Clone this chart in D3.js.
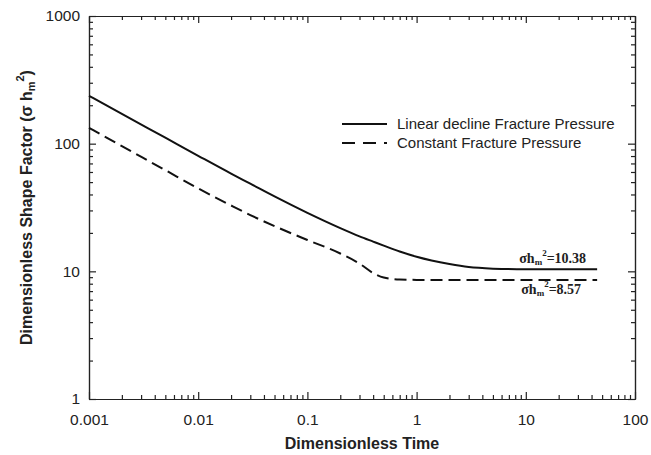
<!DOCTYPE html>
<html>
<head>
<meta charset="utf-8">
<script src="https://cdn.jsdelivr.net/npm/d3@7"></script>
<style>
    html, body { margin: 0; padding: 0; background: #fff; }
    svg { display: block; font-family: "Liberation Sans", Arial, Helvetica, sans-serif; }
    .axis path, .axis line { stroke: #222; stroke-width: 1.2; }
    .axis text { font-size: 15.5px; fill: #222; }
</style>
</head>
<body>
<div id="chart"></div>
<script>
// dimensionless time
const times = [0.001, 0.002, 0.005, 0.01, 0.02, 0.03, 0.05, 0.1, 0.2, 0.3, 0.4, 0.5, 0.7, 1, 2, 3, 5, 10, 20, 45];
// shape factor, linear decline fracture pressure
const linearDecline = [237, 171, 111.3, 80.4, 58.3, 48.6, 38.6, 28.7, 21.8, 18.8, 17.1, 15.9, 14.3, 13.0, 11.4, 10.8, 10.5, 10.38, 10.38, 10.38];
// shape factor, constant fracture pressure
const constantPressure = [133, 95.7, 62.0, 44.6, 32.8, 27.6, 22.6, 17.6, 13.8, 11.5, 9.7, 8.95, 8.62, 8.57, 8.57, 8.57, 8.57, 8.57, 8.57, 8.57];

const xTicks = [0.001, 0.01, 0.1, 1, 10, 100];
const yTicks = [1, 10, 100, 1000];
const legendLabels = ['Linear decline Fracture Pressure', 'Constant Fracture Pressure'];
const plateauValues = ['10.38', '8.57'];

const W = 651, H = 455;
const margin = { top: 16, right: 16, bottom: 56, left: 89 };
const innerW = W - margin.left - margin.right;
const innerH = H - margin.top - margin.bottom;

const x = d3.scaleLog().domain([0.001, 100]).range([0, innerW]);
const y = d3.scaleLog().domain([1, 1000]).range([innerH, 0]);

function minorTicks(lo, hi) {
    const out = [];
    for (let p = Math.log10(lo); p < Math.log10(hi); p++) {
        for (let m = 2; m <= 9; m++) out.push(m * Math.pow(10, p));
    }
    return out;
}
const xMinor = minorTicks(0.001, 100);
const yMinor = minorTicks(1, 1000);

const svg = d3.select('#chart').append('svg')
    .attr('width', W)
    .attr('height', H);

const g = svg.append('g').attr('transform', `translate(${margin.left},${margin.top})`);

// frame + ticks (inward on all sides)
const fmt = d3.format('~g');

const xAxisBottom = g.append('g').attr('class', 'axis')
    .attr('transform', `translate(0,${innerH})`)
    .call(d3.axisBottom(x).tickValues(xTicks).tickFormat(fmt).tickSize(-7).tickSizeOuter(0));
xAxisBottom.selectAll('text').attr('y', 26).attr('dy', 0);
g.append('g').attr('class', 'axis')
    .attr('transform', `translate(0,${innerH})`)
    .call(d3.axisBottom(x).tickValues(xMinor).tickFormat('').tickSize(-4).tickSizeOuter(0));

g.append('g').attr('class', 'axis')
    .call(d3.axisTop(x).tickValues(xTicks).tickFormat('').tickSize(-7).tickSizeOuter(0));
g.append('g').attr('class', 'axis')
    .call(d3.axisTop(x).tickValues(xMinor).tickFormat('').tickSize(-4).tickSizeOuter(0));

const yAxisLeft = g.append('g').attr('class', 'axis')
    .call(d3.axisLeft(y).tickValues(yTicks).tickFormat(fmt).tickSize(-7).tickSizeOuter(0));
yAxisLeft.selectAll('text').attr('x', -9);
g.append('g').attr('class', 'axis')
    .call(d3.axisLeft(y).tickValues(yMinor).tickFormat('').tickSize(-4).tickSizeOuter(0));

g.append('g').attr('class', 'axis')
    .attr('transform', `translate(${innerW},0)`)
    .call(d3.axisRight(y).tickValues(yTicks).tickFormat('').tickSize(-7).tickSizeOuter(0));
g.append('g').attr('class', 'axis')
    .attr('transform', `translate(${innerW},0)`)
    .call(d3.axisRight(y).tickValues(yMinor).tickFormat('').tickSize(-4).tickSizeOuter(0));

// curves
const line = d3.line()
    .x(d => x(d[0]))
    .y(d => y(d[1]))
    .curve(d3.curveMonotoneX);

g.append('path')
    .attr('d', line(d3.zip(times, linearDecline)))
    .attr('fill', 'none')
    .attr('stroke', '#111')
    .attr('stroke-width', 2);

g.append('path')
    .attr('d', line(d3.zip(times, constantPressure)))
    .attr('fill', 'none')
    .attr('stroke', '#111')
    .attr('stroke-width', 2)
    .attr('stroke-dasharray', '12,6');

// plateau annotations
const tEnd = times[times.length - 1];
function annot(val, xOff, yOff) {
    const t = g.append('text')
        .attr('x', x(tEnd) + xOff)
        .attr('y', y(+val) + yOff)
        .attr('text-anchor', 'end')
        .style('font-family', '"Liberation Serif", "Times New Roman", serif')
        .style('font-weight', 'bold')
        .style('font-size', '14px')
        .attr('fill', '#222');
    t.append('tspan').text('σh');
    t.append('tspan').attr('baseline-shift', '-2').style('font-size', '9px').text('m');
    t.append('tspan').attr('baseline-shift', '7').style('font-size', '9px').text('2');
    t.append('tspan').text('=' + val);
}
annot(plateauValues[0], -11, -6);
annot(plateauValues[1], -16, 14);

// legend
const legend = g.append('g').attr('transform', 'translate(253,108)');
legendLabels.forEach((lab, i) => {
    const row = legend.append('g').attr('transform', `translate(0,${i * 19})`);
    row.append('line')
        .attr('x1', 0).attr('x2', 45)
        .attr('y1', 0).attr('y2', 0)
        .attr('stroke', '#111')
        .attr('stroke-width', 2)
        .attr('stroke-dasharray', i === 1 ? '13,8' : null);
    row.append('text')
        .attr('x', 55)
        .attr('y', 5)
        .style('font-size', '15px')
        .attr('fill', '#222')
        .text(lab);
});

// axis titles
svg.append('text')
    .attr('x', margin.left + innerW / 2)
    .attr('y', 449)
    .attr('text-anchor', 'middle')
    .style('font-weight', 'bold')
    .style('font-size', '16px')
    .attr('fill', '#222')
    .text('Dimensionless Time');

const yt = svg.append('text')
    .attr('transform', `translate(32,${margin.top + innerH / 2}) rotate(-90)`)
    .attr('text-anchor', 'middle')
    .style('font-weight', 'bold')
    .style('font-size', '16px')
    .attr('fill', '#222');
yt.append('tspan').text('Dimensionless Shape Factor (σ h');
yt.append('tspan').attr('baseline-shift', '-3').style('font-size', '11px').text('m');
yt.append('tspan').attr('baseline-shift', '8').style('font-size', '11px').text('2');
yt.append('tspan').text(')');
</script>
</body>
</html>
